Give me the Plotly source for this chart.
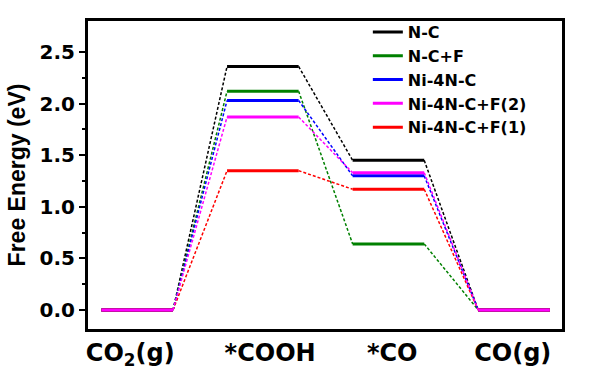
import plotly.graph_objects as go

steps = ["CO<sub>2</sub>(g)", "*COOH", "*CO", "CO(g)"]
series_names = ["N-C", "N-C+F", "Ni-4N-C", "Ni-4N-C+F(2)", "Ni-4N-C+F(1)"]
colors = ["#000000", "#008000", "#0000ff", "#ff00ff", "#ff0000"]
nc = [0.0, 2.36, 1.45, 0.0]
ncf = [0.0, 2.12, 0.64, 0.0]
ni4nc = [0.0, 2.03, 1.30, 0.0]
ni4ncf2 = [0.0, 1.87, 1.33, 0.0]
ni4ncf1 = [0.0, 1.35, 1.17, 0.0]
values = [nc, ncf, ni4nc, ni4ncf2, ni4ncf1]
draw_order = [0, 1, 2, 4, 3]

half = 0.285
font_b = "Liberation Sans, Arial, sans-serif"

fig = go.Figure()
for idx in draw_order:
    vals = values[idx]
    col = colors[idx]
    cx, cy = [], []
    for i in range(len(vals) - 1):
        cx += [i + half, i + 1 - half, None]
        cy += [vals[i], vals[i + 1], None]
    fig.add_trace(go.Scatter(x=cx, y=cy, mode="lines", showlegend=False,
                             line=dict(color=col, width=1.5, dash="3px,2px"),
                             hoverinfo="skip"))
    lx, ly = [], []
    for i, v in enumerate(vals):
        lx += [i - half, i + half, None]
        ly += [v, v, None]
    fig.add_trace(go.Scatter(x=lx, y=ly, mode="lines", name=series_names[idx],
                             legendrank=idx + 1,
                             line=dict(color=col, width=3)))

fig.update_layout(
    width=598, height=369,
    margin=dict(l=87, r=35, t=20, b=39, autoexpand=False),
    plot_bgcolor="white", paper_bgcolor="white",
    font=dict(family=font_b, color="black"),
    legend=dict(x=0.59, y=1.016, xanchor="left", yanchor="top",
                bgcolor="rgba(0,0,0,0)", borderwidth=0,
                font=dict(size=16, family="DejaVu Sans", weight="bold"),
                tracegroupgap=0),
    shapes=[dict(type="rect", xref="paper", yref="paper", x0=0, x1=1, y0=0, y1=1,
                 line=dict(color="black", width=2), fillcolor="rgba(0,0,0,0)")],
)
fig.update_xaxes(
    range=[-0.4, 3.39], tickmode="array",
    tickvals=[-0.056, 1.058, 2.03, 2.99], ticktext=steps,
    ticks="", showgrid=False, zeroline=False,
    showline=True, linecolor="black", linewidth=2, mirror=True,
    tickfont=dict(size=24, family="DejaVu Sans", weight="bold"),
)
fig.update_yaxes(
    range=[-0.194, 2.81], tickmode="array",
    tickvals=[0, 0.5, 1.0, 1.5, 2.0, 2.5],
    ticktext=["0.0", "0.5", "1.0", "1.5", "2.0", "2.5"],
    ticks="outside", ticklen=6, tickwidth=2, tickcolor="black",
    minor=dict(tickvals=[0.25, 0.75, 1.25, 1.75, 2.25], ticks="outside", ticklen=3, tickwidth=1.5, tickcolor="black"),
    showgrid=False, zeroline=False,
    showline=True, linecolor="black", linewidth=2, mirror=True,
    tickfont=dict(size=20, family="DejaVu Sans", weight="bold"),
    title=dict(text="Free Energy (eV)", font=dict(size=23, family=font_b, weight="bold"), standoff=8),
)

fig.write_html("out.html", config={"displayModeBar": False},
               post_script="document.body.style.margin='0px';document.body.style.overflow='hidden';")
